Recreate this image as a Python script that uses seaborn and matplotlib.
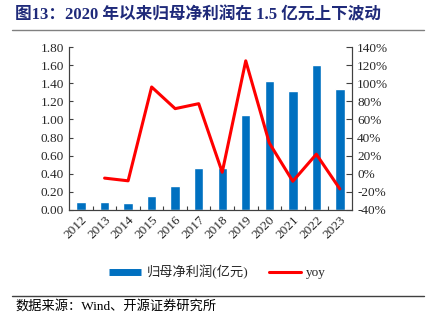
import numpy as np
import pandas as pd
import matplotlib
matplotlib.use("Agg")
import matplotlib.pyplot as plt
import seaborn as sns
from matplotlib.lines import Line2D
from matplotlib.ticker import FuncFormatter, FixedLocator

years = ["2012", "2013", "2014", "2015", "2016", "2017", "2018", "2019", "2020", "2021", "2022", "2023"]
profit = [0.085, 0.082, 0.071, 0.149, 0.259, 0.459, 0.462, 1.05, 1.43, 1.31, 1.60, 1.34]
yoy = [np.nan, -5.0, -8.0, 96.0, 72.0, 77.5, 1.5, 125.0, 34.0, -8.5, 21.5, -17.0]

title = "图13：2020 年以来归母净利润在 1.5 亿元上下波动"
source = "数据来源：Wind、开源证券研究所"
bar_label = "归母净利润(亿元)"
line_label = "yoy"

sns.set_theme(style="white")
plt.rcParams['font.family'] = ['Liberation Serif', 'Noto Sans CJK SC']
plt.rcParams['axes.unicode_minus'] = False

BLUE = "#0070C0"
RED = "#FF0000"

df = pd.DataFrame({"year": years, "profit": profit, "yoy": yoy})
df["pos"] = np.arange(len(years))

fig = plt.figure(figsize=(4.31, 3.23), dpi=100)
ax = fig.add_axes([0.1608, 0.3508, 0.655, 0.5028])

sns.barplot(data=df, x="year", y="profit", color=BLUE, saturation=1, width=0.4, ax=ax)
ax.set_xlim(-0.5, len(years) - 0.5)
ax.set_ylim(0, 1.8)
ax.set_yticks(np.arange(0, 1.81, 0.2))
ax.yaxis.set_major_formatter(FuncFormatter(lambda v, p: f"{v:.2f}"))
ax.set_xlabel("")
ax.set_ylabel("")

ax2 = ax.twinx()
sns.lineplot(data=df.dropna(), x="pos", y="yoy", color=RED, linewidth=2.2, ax=ax2)
ax2.set_ylim(-40, 140)
ax2.set_yticks(np.arange(-40, 141, 20))
ax2.yaxis.set_major_formatter(FuncFormatter(lambda v, p: f"{int(round(v))}%"))
ax2.set_xlabel("")
ax2.set_ylabel("")
ax.set_xlim(-0.5, len(years) - 0.5)

for a in (ax, ax2):
    a.spines['top'].set_visible(False)
    for s in ('left', 'right', 'bottom'):
        a.spines[s].set_color('#404040')
        a.spines[s].set_linewidth(0.8)
    a.grid(False)

ax.tick_params(axis='y', direction='in', length=3, width=0.8, color='#404040', labelsize=9.5, pad=4, left=True)
ax2.tick_params(axis='y', direction='in', length=4, width=0.8, color='#404040', labelsize=9.5, pad=4, right=True)
ax.set_xticks(np.arange(len(years)))
ax.set_xticklabels(years, rotation=45, ha='right', rotation_mode='anchor', fontsize=9.5)
ax.tick_params(axis='x', which='major', length=0, pad=3)
ax.xaxis.set_minor_locator(FixedLocator(np.arange(0.5, len(years) - 0.5, 1)))
ax.tick_params(axis='x', which='minor', direction='in', length=3, width=0.8, color='#404040', bottom=True)

handles = [Line2D([0], [0], color=BLUE, linewidth=5, solid_capstyle='butt'),
           Line2D([0], [0], color=RED, linewidth=2.2)]
fig.legend(handles, [bar_label, line_label], loc='center', bbox_to_anchor=(0.505, 0.158),
           ncol=2, frameon=False, fontsize=9.5, handlelength=2.4, columnspacing=1.6, handletextpad=0.4)

fig.text(0.035, 0.952, title, fontsize=12, fontweight='bold', color='#1F2A7A', va='center', ha='left')
fig.add_artist(Line2D([0.028, 0.984], [0.908, 0.908], color='#808080', linewidth=1.0))
fig.add_artist(Line2D([0.028, 0.984], [0.084, 0.084], color='#404040', linewidth=1.0))
fig.text(0.035, 0.052, source, fontsize=9.5, color='black', va='center', ha='left')

fig.savefig("out.png", dpi=100)
